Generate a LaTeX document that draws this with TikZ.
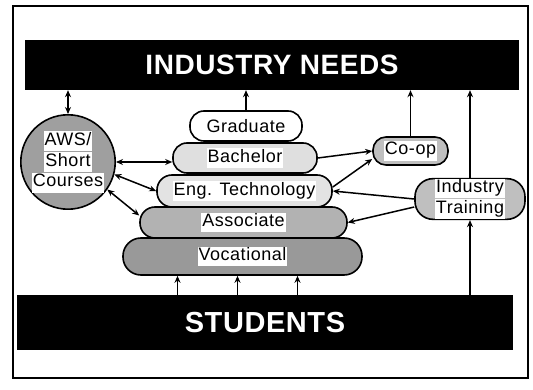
\documentclass[tikz,border=0pt]{standalone}
\usepackage{fontspec}
\setmainfont{Liberation Sans}
\newfontfamily\labfont[LetterSpace=3]{Liberation Sans}
\newfontfamily\titfont[LetterSpace=2]{Liberation Sans}
\usetikzlibrary{arrows.meta}
\newcommand\wbx[1]{{\setlength\fboxsep{1pt}\colorbox{white}{\strut #1}}}
\begin{document}
\begin{tikzpicture}[x=1pt,y=-1pt,
  bar/.style={fill=black,text=white,inner sep=0pt,font=\titfont\bfseries},
  pill/.style={draw,line width=1.6pt,inner sep=0pt,font=\labfont\fontsize{18}{16}\selectfont},
  arr/.style={-{Stealth[length=7pt,width=6pt]},line width=1.5pt},
  darr/.style={{Stealth[length=7pt,width=6pt]}-{Stealth[length=7pt,width=6pt]},line width=1.5pt}]
\useasboundingbox (0,0) rectangle (533,390);
\draw[line width=1.6pt] (13,6) rectangle (528,378);
% bars
\node[bar,minimum width=494pt,minimum height=50pt,font=\titfont\bfseries\fontsize{28}{30}\selectfont] (need) at (272,65) {INDUSTRY NEEDS};
\node[bar,minimum width=496pt,minimum height=55pt,font=\titfont\bfseries\fontsize{29}{31}\selectfont] (stud) at (265,322.5) {STUDENTS};
% pyramid
\node[pill,fill=white,minimum width=112pt,minimum height=30pt,rounded corners=14pt] (grad) at (246,126) {Graduate};
\node[pill,fill=gray!25,minimum width=144pt,minimum height=30pt,rounded corners=14pt] (bach) at (245,158) {\wbx{Bachelor}};
\node[pill,fill=gray!22,minimum width=175pt,minimum height=32pt,rounded corners=15pt] (eng) at (244.5,191) {\wbx{Eng. Technology}};
\node[pill,fill=gray!60,minimum width=207pt,minimum height=31pt,rounded corners=15pt] (assoc) at (243.5,222.5) {\wbx{Associate}};
\node[pill,fill=gray!80,minimum width=239pt,minimum height=37pt,rounded corners=18pt] (voc) at (242.5,256.5) {\wbx{Vocational}};
% side nodes
\node[pill,circle,fill=gray!75,minimum size=90pt,align=center] (aws) at (68,162) {\wbx{AWS/}\\\wbx{Short}\\\wbx{Courses}};
\node[pill,fill=gray!50,minimum width=75pt,minimum height=28pt,rounded corners=13pt] (coop) at (410.5,151) {\wbx{Co-op}};
\node[pill,fill=gray!50,minimum width=110pt,minimum height=38pt,rounded corners=18pt,align=center] (ind) at (470,199) {\wbx{Industry}\\\wbx{Training}};
% connectors
\draw[darr] (aws.north) -- (aws.north |- need.south);
\draw[arr] (grad.north) -- (grad.north |- need.south);
\draw[arr] (coop.north) -- (coop.north |- need.south);
\draw[arr] (ind.north) -- (ind.north |- need.south);
\draw[arr] (ind.south |- stud.north) -- (ind.south);
\foreach \dx in {-65,-5,55}
  \draw[arr] ([xshift=\dx pt]voc.south |- stud.north) -- ([xshift=\dx pt]voc.south);
\draw[darr] (aws.east) -- (aws.east -| bach.west);
\draw[darr] (aws.-15) -- (eng.west);
\draw[darr] (aws.-35) -- ([yshift=7pt]assoc.west);
\draw[arr] (bach.east) -- (coop.west);
\draw[arr] ([yshift=4pt]eng.east) -- ([yshift=-8pt]coop.west);
\draw[arr] (ind.west) -- (eng.east);
\draw[arr] ([yshift=-8pt]ind.west) -- (assoc.east);
\end{tikzpicture}
\end{document}
